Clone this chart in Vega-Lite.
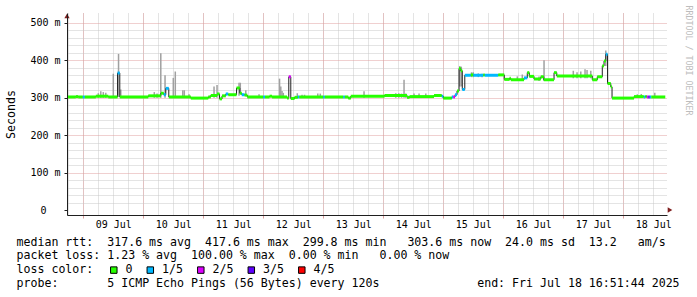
{
  "$schema": "https://vega.github.io/schema/vega-lite/v6.json",
  "width": 600,
  "height": 202,
  "autosize": {"type": "none"},
  "padding": {"left": 67, "top": 13, "right": 30, "bottom": 82},
  "background": "white",
  "config": {
    "view": {"stroke": null},
    "font": "DejaVu Sans Mono",
    "axis": {"labelFont": "DejaVu Sans Mono", "titleFont": "DejaVu Sans Mono", "labelColor": "#000000", "titleColor": "#000000", "titleFontWeight": "normal"},
    "legend": {"labelFont": "DejaVu Sans Mono", "titleFont": "DejaVu Sans Mono"}
  },
  "datasets": {
    "median": [
      {"t": "2025-07-08T17:29:00Z", "t2": "2025-07-08T21:00:00Z", "ms": 302, "loss": "0"},
      {"t": "2025-07-08T21:00:00Z", "t2": "2025-07-08T22:00:00Z", "ms": 303, "loss": "0"},
      {"t": "2025-07-08T22:00:00Z", "t2": "2025-07-08T23:48:00Z", "ms": 302, "loss": "0"},
      {"t": "2025-07-08T23:48:00Z", "t2": "2025-07-09T00:36:00Z", "ms": 302, "loss": "1/5"},
      {"t": "2025-07-09T00:36:00Z", "t2": "2025-07-09T05:00:00Z", "ms": 302, "loss": "0"},
      {"t": "2025-07-09T05:00:00Z", "t2": "2025-07-09T10:00:00Z", "ms": 304, "loss": "0"},
      {"t": "2025-07-09T10:00:00Z", "t2": "2025-07-09T13:42:00Z", "ms": 302, "loss": "0"},
      {"t": "2025-07-09T13:42:00Z", "t2": "2025-07-09T14:36:00Z", "ms": 366, "loss": "1/5"},
      {"t": "2025-07-09T14:36:00Z", "t2": "2025-07-10T02:00:00Z", "ms": 302, "loss": "0"},
      {"t": "2025-07-10T02:00:00Z", "t2": "2025-07-10T07:00:00Z", "ms": 305, "loss": "0"},
      {"t": "2025-07-10T07:00:00Z", "t2": "2025-07-10T08:12:00Z", "ms": 312, "loss": "0"},
      {"t": "2025-07-10T08:12:00Z", "t2": "2025-07-10T09:00:00Z", "ms": 308, "loss": "1/5"},
      {"t": "2025-07-10T09:00:00Z", "t2": "2025-07-10T10:12:00Z", "ms": 325, "loss": "1/5"},
      {"t": "2025-07-10T10:12:00Z", "t2": "2025-07-10T19:00:00Z", "ms": 302, "loss": "0"},
      {"t": "2025-07-10T19:00:00Z", "t2": "2025-07-11T02:00:00Z", "ms": 299, "loss": "0"},
      {"t": "2025-07-11T02:00:00Z", "t2": "2025-07-11T03:00:00Z", "ms": 302, "loss": "0"},
      {"t": "2025-07-11T03:00:00Z", "t2": "2025-07-11T05:30:00Z", "ms": 306, "loss": "0"},
      {"t": "2025-07-11T05:30:00Z", "t2": "2025-07-11T06:30:00Z", "ms": 310, "loss": "0"},
      {"t": "2025-07-11T06:30:00Z", "t2": "2025-07-11T07:30:00Z", "ms": 297, "loss": "0"},
      {"t": "2025-07-11T07:30:00Z", "t2": "2025-07-11T09:00:00Z", "ms": 305, "loss": "0"},
      {"t": "2025-07-11T09:00:00Z", "t2": "2025-07-11T10:00:00Z", "ms": 310, "loss": "1/5"},
      {"t": "2025-07-11T10:00:00Z", "t2": "2025-07-11T13:18:00Z", "ms": 308, "loss": "0"},
      {"t": "2025-07-11T13:18:00Z", "t2": "2025-07-11T14:36:00Z", "ms": 326, "loss": "0"},
      {"t": "2025-07-11T14:36:00Z", "t2": "2025-07-11T15:24:00Z", "ms": 312, "loss": "0"},
      {"t": "2025-07-11T15:24:00Z", "t2": "2025-07-11T16:30:00Z", "ms": 308, "loss": "1/5"},
      {"t": "2025-07-11T16:30:00Z", "t2": "2025-07-11T17:36:00Z", "ms": 307, "loss": "0"},
      {"t": "2025-07-11T17:36:00Z", "t2": "2025-07-12T00:00:00Z", "ms": 302, "loss": "0"},
      {"t": "2025-07-12T00:00:00Z", "t2": "2025-07-12T00:42:00Z", "ms": 302, "loss": "1/5"},
      {"t": "2025-07-12T00:42:00Z", "t2": "2025-07-12T02:30:00Z", "ms": 302, "loss": "0"},
      {"t": "2025-07-12T02:30:00Z", "t2": "2025-07-12T03:30:00Z", "ms": 304, "loss": "0"},
      {"t": "2025-07-12T03:30:00Z", "t2": "2025-07-12T09:30:00Z", "ms": 302, "loss": "0"},
      {"t": "2025-07-12T09:30:00Z", "t2": "2025-07-12T10:12:00Z", "ms": 299, "loss": "0"},
      {"t": "2025-07-12T10:12:00Z", "t2": "2025-07-12T11:00:00Z", "ms": 356, "loss": "2/5"},
      {"t": "2025-07-12T11:00:00Z", "t2": "2025-07-12T12:30:00Z", "ms": 298, "loss": "0"},
      {"t": "2025-07-12T12:30:00Z", "t2": "2025-07-12T13:48:00Z", "ms": 301, "loss": "0"},
      {"t": "2025-07-12T13:48:00Z", "t2": "2025-07-12T14:24:00Z", "ms": 302, "loss": "1/5"},
      {"t": "2025-07-12T14:24:00Z", "t2": "2025-07-13T00:00:00Z", "ms": 302, "loss": "0"},
      {"t": "2025-07-13T00:00:00Z", "t2": "2025-07-13T00:36:00Z", "ms": 302, "loss": "1/5"},
      {"t": "2025-07-13T00:36:00Z", "t2": "2025-07-13T08:00:00Z", "ms": 302, "loss": "0"},
      {"t": "2025-07-13T08:00:00Z", "t2": "2025-07-13T08:36:00Z", "ms": 302, "loss": "1/5"},
      {"t": "2025-07-13T08:36:00Z", "t2": "2025-07-13T10:00:00Z", "ms": 302, "loss": "0"},
      {"t": "2025-07-13T10:00:00Z", "t2": "2025-07-13T11:00:00Z", "ms": 299, "loss": "0"},
      {"t": "2025-07-13T11:00:00Z", "t2": "2025-07-14T00:30:00Z", "ms": 304, "loss": "0"},
      {"t": "2025-07-14T00:30:00Z", "t2": "2025-07-14T09:30:00Z", "ms": 306, "loss": "0"},
      {"t": "2025-07-14T09:30:00Z", "t2": "2025-07-14T10:30:00Z", "ms": 301, "loss": "0"},
      {"t": "2025-07-14T10:30:00Z", "t2": "2025-07-14T20:18:00Z", "ms": 303, "loss": "0"},
      {"t": "2025-07-14T20:18:00Z", "t2": "2025-07-14T23:24:00Z", "ms": 306, "loss": "0"},
      {"t": "2025-07-14T23:24:00Z", "t2": "2025-07-15T00:00:00Z", "ms": 304, "loss": "1/5"},
      {"t": "2025-07-15T00:00:00Z", "t2": "2025-07-15T03:24:00Z", "ms": 299, "loss": "0"},
      {"t": "2025-07-15T03:24:00Z", "t2": "2025-07-15T04:00:00Z", "ms": 302, "loss": "1/5"},
      {"t": "2025-07-15T04:00:00Z", "t2": "2025-07-15T04:42:00Z", "ms": 302, "loss": "2/5"},
      {"t": "2025-07-15T04:42:00Z", "t2": "2025-07-15T05:30:00Z", "ms": 308, "loss": "1/5"},
      {"t": "2025-07-15T05:30:00Z", "t2": "2025-07-15T06:18:00Z", "ms": 318, "loss": "0"},
      {"t": "2025-07-15T06:18:00Z", "t2": "2025-07-15T07:00:00Z", "ms": 378, "loss": "0"},
      {"t": "2025-07-15T07:00:00Z", "t2": "2025-07-15T07:36:00Z", "ms": 372, "loss": "0"},
      {"t": "2025-07-15T07:36:00Z", "t2": "2025-07-15T08:36:00Z", "ms": 322, "loss": "1/5"},
      {"t": "2025-07-15T08:36:00Z", "t2": "2025-07-15T11:00:00Z", "ms": 360, "loss": "1/5"},
      {"t": "2025-07-15T11:00:00Z", "t2": "2025-07-15T12:00:00Z", "ms": 361, "loss": "0"},
      {"t": "2025-07-15T12:00:00Z", "t2": "2025-07-15T16:00:00Z", "ms": 360, "loss": "1/5"},
      {"t": "2025-07-15T16:00:00Z", "t2": "2025-07-15T16:36:00Z", "ms": 361, "loss": "0"},
      {"t": "2025-07-15T16:36:00Z", "t2": "2025-07-15T22:00:00Z", "ms": 360, "loss": "1/5"},
      {"t": "2025-07-15T22:00:00Z", "t2": "2025-07-16T00:24:00Z", "ms": 361, "loss": "0"},
      {"t": "2025-07-16T00:24:00Z", "t2": "2025-07-16T02:30:00Z", "ms": 349, "loss": "0"},
      {"t": "2025-07-16T02:30:00Z", "t2": "2025-07-16T03:00:00Z", "ms": 352, "loss": "0"},
      {"t": "2025-07-16T03:00:00Z", "t2": "2025-07-16T08:18:00Z", "ms": 348, "loss": "0"},
      {"t": "2025-07-16T08:18:00Z", "t2": "2025-07-16T09:36:00Z", "ms": 353, "loss": "1/5"},
      {"t": "2025-07-16T09:36:00Z", "t2": "2025-07-16T10:24:00Z", "ms": 367, "loss": "0"},
      {"t": "2025-07-16T10:24:00Z", "t2": "2025-07-16T12:18:00Z", "ms": 357, "loss": "0"},
      {"t": "2025-07-16T12:18:00Z", "t2": "2025-07-16T15:00:00Z", "ms": 350, "loss": "0"},
      {"t": "2025-07-16T15:00:00Z", "t2": "2025-07-16T16:12:00Z", "ms": 356, "loss": "0"},
      {"t": "2025-07-16T16:12:00Z", "t2": "2025-07-16T20:18:00Z", "ms": 348, "loss": "0"},
      {"t": "2025-07-16T20:18:00Z", "t2": "2025-07-16T21:24:00Z", "ms": 367, "loss": "0"},
      {"t": "2025-07-16T21:24:00Z", "t2": "2025-07-17T11:36:00Z", "ms": 358, "loss": "0"},
      {"t": "2025-07-17T11:36:00Z", "t2": "2025-07-17T13:36:00Z", "ms": 348, "loss": "0"},
      {"t": "2025-07-17T13:36:00Z", "t2": "2025-07-17T15:36:00Z", "ms": 356, "loss": "0"},
      {"t": "2025-07-17T15:36:00Z", "t2": "2025-07-17T16:18:00Z", "ms": 385, "loss": "0"},
      {"t": "2025-07-17T16:18:00Z", "t2": "2025-07-17T17:00:00Z", "ms": 398, "loss": "0"},
      {"t": "2025-07-17T17:00:00Z", "t2": "2025-07-17T17:42:00Z", "ms": 416, "loss": "1/5"},
      {"t": "2025-07-17T17:42:00Z", "t2": "2025-07-17T19:00:00Z", "ms": 338, "loss": "0"},
      {"t": "2025-07-17T19:00:00Z", "t2": "2025-07-17T19:30:00Z", "ms": 329, "loss": "0"},
      {"t": "2025-07-17T19:30:00Z", "t2": "2025-07-18T04:18:00Z", "ms": 299, "loss": "0"},
      {"t": "2025-07-18T04:18:00Z", "t2": "2025-07-18T08:12:00Z", "ms": 303, "loss": "0"},
      {"t": "2025-07-18T08:12:00Z", "t2": "2025-07-18T08:48:00Z", "ms": 302, "loss": "1/5"},
      {"t": "2025-07-18T08:48:00Z", "t2": "2025-07-18T09:24:00Z", "ms": 303, "loss": "0"},
      {"t": "2025-07-18T09:24:00Z", "t2": "2025-07-18T10:00:00Z", "ms": 302, "loss": "2/5"},
      {"t": "2025-07-18T10:00:00Z", "t2": "2025-07-18T10:36:00Z", "ms": 302, "loss": "3/5"},
      {"t": "2025-07-18T10:36:00Z", "t2": "2025-07-18T11:12:00Z", "ms": 302, "loss": "1/5"},
      {"t": "2025-07-18T11:12:00Z", "t2": "2025-07-18T16:48:00Z", "ms": 302, "loss": "0"}
    ],
    "smoke": [
      {"t": "2025-07-09T06:00:00Z", "lo": 300, "hi": 312},
      {"t": "2025-07-09T07:00:00Z", "lo": 300, "hi": 317},
      {"t": "2025-07-09T08:00:00Z", "lo": 300, "hi": 315},
      {"t": "2025-07-09T09:00:00Z", "lo": 300, "hi": 313},
      {"t": "2025-07-09T12:00:00Z", "lo": 302, "hi": 364},
      {"t": "2025-07-09T14:06:00Z", "lo": 302, "hi": 417},
      {"t": "2025-07-09T15:00:00Z", "lo": 302, "hi": 322},
      {"t": "2025-07-10T04:24:00Z", "lo": 300, "hi": 315},
      {"t": "2025-07-10T05:30:00Z", "lo": 300, "hi": 311},
      {"t": "2025-07-10T07:00:00Z", "lo": 300, "hi": 419},
      {"t": "2025-07-10T08:42:00Z", "lo": 300, "hi": 360},
      {"t": "2025-07-10T12:00:00Z", "lo": 300, "hi": 353},
      {"t": "2025-07-10T12:48:00Z", "lo": 300, "hi": 370},
      {"t": "2025-07-10T15:48:00Z", "lo": 300, "hi": 320},
      {"t": "2025-07-10T16:24:00Z", "lo": 300, "hi": 320},
      {"t": "2025-07-10T18:18:00Z", "lo": 300, "hi": 309},
      {"t": "2025-07-11T04:18:00Z", "lo": 300, "hi": 330},
      {"t": "2025-07-11T05:30:00Z", "lo": 300, "hi": 334},
      {"t": "2025-07-11T14:18:00Z", "lo": 305, "hi": 340},
      {"t": "2025-07-11T14:48:00Z", "lo": 310, "hi": 340},
      {"t": "2025-07-11T17:00:00Z", "lo": 305, "hi": 320},
      {"t": "2025-07-11T22:18:00Z", "lo": 300, "hi": 309},
      {"t": "2025-07-12T06:30:00Z", "lo": 300, "hi": 351},
      {"t": "2025-07-12T07:00:00Z", "lo": 300, "hi": 330},
      {"t": "2025-07-12T07:30:00Z", "lo": 300, "hi": 318},
      {"t": "2025-07-12T08:00:00Z", "lo": 300, "hi": 313},
      {"t": "2025-07-12T13:36:00Z", "lo": 300, "hi": 312},
      {"t": "2025-07-12T15:30:00Z", "lo": 300, "hi": 308},
      {"t": "2025-07-12T16:30:00Z", "lo": 300, "hi": 308},
      {"t": "2025-07-12T21:48:00Z", "lo": 300, "hi": 311},
      {"t": "2025-07-12T22:48:00Z", "lo": 300, "hi": 311},
      {"t": "2025-07-13T16:18:00Z", "lo": 300, "hi": 317},
      {"t": "2025-07-14T05:00:00Z", "lo": 300, "hi": 312},
      {"t": "2025-07-14T06:12:00Z", "lo": 300, "hi": 312},
      {"t": "2025-07-14T07:18:00Z", "lo": 300, "hi": 311},
      {"t": "2025-07-14T08:18:00Z", "lo": 300, "hi": 348},
      {"t": "2025-07-14T09:00:00Z", "lo": 300, "hi": 311},
      {"t": "2025-07-14T12:18:00Z", "lo": 300, "hi": 311},
      {"t": "2025-07-14T14:18:00Z", "lo": 300, "hi": 311},
      {"t": "2025-07-14T17:00:00Z", "lo": 300, "hi": 311},
      {"t": "2025-07-15T06:36:00Z", "lo": 330, "hi": 385},
      {"t": "2025-07-15T07:12:00Z", "lo": 330, "hi": 383},
      {"t": "2025-07-15T11:18:00Z", "lo": 355, "hi": 368},
      {"t": "2025-07-15T12:00:00Z", "lo": 355, "hi": 368},
      {"t": "2025-07-15T14:00:00Z", "lo": 355, "hi": 365},
      {"t": "2025-07-15T15:30:00Z", "lo": 355, "hi": 364},
      {"t": "2025-07-16T05:36:00Z", "lo": 345, "hi": 357},
      {"t": "2025-07-16T07:36:00Z", "lo": 345, "hi": 362},
      {"t": "2025-07-16T14:18:00Z", "lo": 345, "hi": 357},
      {"t": "2025-07-16T16:18:00Z", "lo": 345, "hi": 400},
      {"t": "2025-07-17T04:00:00Z", "lo": 352, "hi": 372},
      {"t": "2025-07-17T05:30:00Z", "lo": 352, "hi": 368},
      {"t": "2025-07-17T07:00:00Z", "lo": 352, "hi": 370},
      {"t": "2025-07-17T08:42:00Z", "lo": 352, "hi": 376},
      {"t": "2025-07-17T09:30:00Z", "lo": 352, "hi": 374},
      {"t": "2025-07-17T11:00:00Z", "lo": 352, "hi": 372},
      {"t": "2025-07-17T17:00:00Z", "lo": 385, "hi": 426},
      {"t": "2025-07-18T05:36:00Z", "lo": 300, "hi": 309},
      {"t": "2025-07-18T07:12:00Z", "lo": 300, "hi": 310},
      {"t": "2025-07-18T12:36:00Z", "lo": 300, "hi": 313}
    ]
  },
  "resolve": {"axis": {"x": "independent", "y": "independent"}},
  "layer": [
    {
      "data": {"name": "smoke"},
      "mark": {"type": "rule", "color": "#a0a0a0", "strokeWidth": 1.5},
      "encoding": {
        "x": {"field": "t", "type": "temporal",
          "scale": {"type": "utc", "nice": false, "domain": [1751995740000, 1752859740000]},
          "axis": {"orient": "bottom", "grid": true, "gridColor": "#c8c8c8", "gridDash": [1, 1], "gridWidth": 1,
            "values": [1751997600000, 1752019200000, 1752040800000, 1752062400000, 1752084000000, 1752105600000, 1752127200000, 1752148800000, 1752170400000, 1752192000000, 1752213600000, 1752235200000, 1752256800000, 1752278400000, 1752300000000, 1752321600000, 1752343200000, 1752364800000, 1752386400000, 1752408000000, 1752429600000, 1752451200000, 1752472800000, 1752494400000, 1752516000000, 1752537600000, 1752559200000, 1752580800000, 1752602400000, 1752624000000, 1752645600000, 1752667200000, 1752688800000, 1752710400000, 1752732000000, 1752753600000, 1752775200000, 1752796800000, 1752818400000, 1752840000000],
            "labels": false, "ticks": false, "domain": false,
            "title": "loss color:", "titleFontSize": 11.6, "titleAlign": "left", "titleBaseline": "alphabetic", "titleX": -51, "titleY": 57.4,
            "zindex": 0}},
        "y": {"field": "lo", "type": "quantitative",
          "scale": {"domain": [0, 513], "nice": false, "zero": true},
          "axis": {"orient": "left", "grid": true, "gridColor": "#c8c8c8", "gridDash": [1, 1], "gridWidth": 1, "values": [20, 40, 60, 80, 120, 140, 160, 180, 220, 240, 260, 280, 320, 340, 360, 380, 420, 440, 460, 480], "labels": false, "ticks": false, "domain": false, "title": null, "zindex": 0}},
        "y2": {"field": "hi"}
      }
    },
    {
      "data": {"name": "median"},
      "mark": {"type": "line", "color": "#202020", "strokeWidth": 1, "interpolate": "step-after"},
      "encoding": {
        "x": {"field": "t", "type": "temporal",
          "scale": {"type": "utc", "nice": false, "domain": [1751995740000, 1752859740000]},
          "axis": {"orient": "bottom", "grid": true, "gridColor": "#e0a0a0", "gridDash": [1, 1], "gridWidth": 1,
            "values": [1752019200000, 1752105600000, 1752192000000, 1752278400000, 1752364800000, 1752451200000, 1752537600000, 1752624000000, 1752710400000, 1752796800000],
            "labels": false, "ticks": true, "tickColor": "#e0a0a0", "tickSize": 3, "domain": false,
            "title": "probe:\u00a0\u00a0\u00a0\u00a0\u00a0\u00a0\u00a05 ICMP Echo Pings (56 Bytes) every 120s\u00a0\u00a0\u00a0\u00a0\u00a0\u00a0\u00a0\u00a0\u00a0\u00a0\u00a0\u00a0\u00a0\u00a0end: Fri Jul 18 16:51:44 2025",
            "titleFontSize": 11.6, "titleAlign": "left", "titleBaseline": "alphabetic", "titleX": -51, "titleY": 71.2,
            "zindex": 0}},
        "y": {"field": "ms", "type": "quantitative",
          "scale": {"domain": [0, 513], "nice": false, "zero": true},
          "axis": {"orient": "left", "grid": true, "gridColor": "#e0a0a0", "gridDash": [1, 1], "gridWidth": 1, "values": [100, 200, 300, 400, 500], "labels": false, "ticks": false, "domain": false, "title": null, "zindex": 0}}
      }
    },
    {
      "data": {"name": "median"},
      "mark": {"type": "bar", "orient": "horizontal", "height": 3},
      "encoding": {
        "x": {"field": "t", "type": "temporal",
          "scale": {"type": "utc", "nice": false, "domain": [1751995740000, 1752859740000]},
          "axis": {
            "orient": "bottom",
            "values": [1752062400000, 1752148800000, 1752235200000, 1752321600000, 1752408000000, 1752494400000, 1752580800000, 1752667200000, 1752753600000, 1752840000000],
            "labelExpr": "utcFormat(datum.value, '%d %b')",
            "labelFontSize": 10, "labelPadding": 4, "labelFlush": false, "labelOverlap": false, "labelBound": false,
            "ticks": false, "grid": false, "domain": true, "domainColor": "#1f1f1f", "domainWidth": 1,
            "title": [
              "median rtt:\u00a0\u00a0317.6 ms avg\u00a0\u00a0417.6 ms max\u00a0\u00a0299.8 ms min\u00a0\u00a0\u00a0303.6 ms now\u00a0\u00a024.0 ms sd\u00a0\u00a013.2\u00a0\u00a0\u00a0am/s",
              "packet loss: 1.23 % avg\u00a0\u00a0100.00 % max\u00a0\u00a00.00 % min\u00a0\u00a0\u00a00.00 % now"
            ],
            "titleFontSize": 11.6, "titleAlign": "left", "titleBaseline": "alphabetic", "titleLineHeight": 13.7,
            "titleX": -51, "titleY": 30, "zindex": 1
          }},
        "x2": {"field": "t2"},
        "y": {"field": "ms", "type": "quantitative",
          "scale": {"domain": [0, 513], "nice": false, "zero": true},
          "axis": {
            "orient": "left", "values": [0, 100, 200, 300, 400, 500],
            "labelExpr": "datum.value == 0 ? '0\u2800\u2800' : datum.value + ' m'",
            "labelFontSize": 10, "labelPadding": 4, "labelFlush": false, "labelBaseline": "middle",
            "ticks": true, "tickSize": 3, "tickColor": "#1f1f1f",
            "grid": false, "domain": true, "domainColor": "#1f1f1f", "domainWidth": 1,
            "title": "Seconds", "titleFontSize": 11.6, "titleAngle": -90, "titleAlign": "center", "titleBaseline": "middle",
            "titleX": -56, "titleY": 101, "zindex": 1
          }},
        "color": {"field": "loss", "type": "nominal",
          "scale": {"domain": ["0", "1/5", "2/5", "3/5", "4/5"], "range": ["#26ff00", "#00b8ff", "#dd00ff", "#5e00ff", "#ff0000"]},
          "legend": {
            "orient": "none", "legendX": 41, "legendY": 251, "direction": "horizontal", "columns": 5, "title": null,
            "symbolType": "square", "symbolSize": 42, "symbolStrokeColor": "#000000", "symbolStrokeWidth": 1, "symbolOpacity": 1,
            "labelFontSize": 11.6, "labelColor": "#000000", "labelOffset": 6, "columnPadding": 11.5, "padding": 0
          }}
      }
    },
    {
      "data": {"values": [{"edge": "start"}]},
      "mark": {"type": "point", "shape": "triangle-up", "filled": true, "color": "#7f1f1f", "size": 28, "opacity": 1, "yOffset": -2, "clip": false},
      "encoding": {
        "x": {"datum": 1751995740000, "type": "temporal",
          "scale": {"type": "utc", "nice": false, "domain": [1751995740000, 1752859740000]},
          "axis": null},
        "y": {"datum": 513, "type": "quantitative", "scale": {"domain": [0, 513], "nice": false, "zero": true}, "axis": null}
      }
    },
    {
      "data": {"values": [{"edge": "end"}]},
      "mark": {"type": "point", "shape": "triangle-right", "filled": true, "color": "#7f1f1f", "size": 28, "opacity": 1, "xOffset": 3, "clip": false},
      "encoding": {
        "x": {"datum": 1752859740000, "type": "temporal",
          "scale": {"type": "utc", "nice": false, "domain": [1751995740000, 1752859740000]},
          "axis": null},
        "y": {"datum": 0, "type": "quantitative", "scale": {"domain": [0, 513], "nice": false, "zero": true},
          "axis": {"orient": "right", "labels": false, "ticks": false, "domain": false, "grid": false,
            "title": "RRDTOOL / TOBI OETIKER", "titleFontSize": 8.3, "titleColor": "#bdbdbd", "titleAngle": 90,
            "titleAlign": "left", "titleBaseline": "middle", "titleX": 20.5, "titleY": -8}}
      }
    }
  ]
}
